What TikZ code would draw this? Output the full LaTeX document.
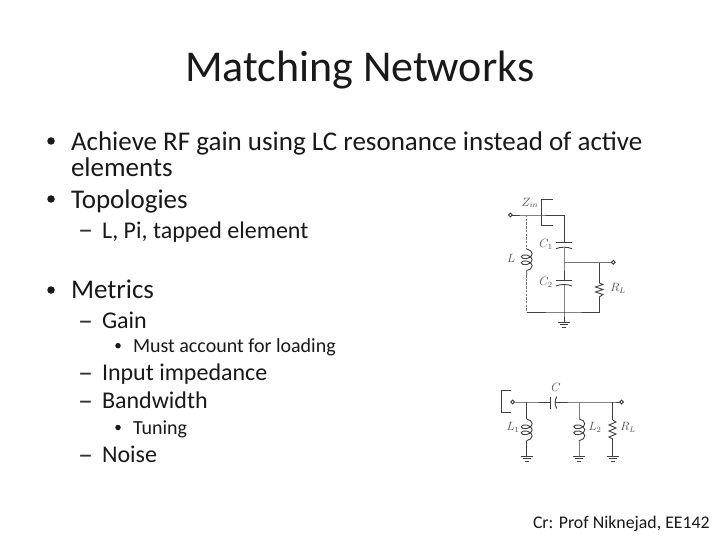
\documentclass[tikz,border=0pt]{standalone}
\usepackage{fontspec}
\setmainfont{Carlito}
\usetikzlibrary{decorations.pathmorphing}
\newcommand{\Gnd}[1]{%
  \draw[wire] (#1) ++(-6,0) -- ++(12,0);
  \draw[wire] (#1) ++(-4,2.5) -- ++(8,0);
  \draw[wire] (#1) ++(-2,5) -- ++(4,0);
}
\tikzset{
  x=1pt,y=-1pt,
  txt/.style={anchor=base west,inner sep=0pt,outer sep=0pt,text=black!90},
  l1/.style={txt,font=\fontsize{27}{30}\selectfont},
  l2/.style={txt,font=\fontsize{24}{28}\selectfont},
  l3/.style={txt,font=\fontsize{20}{24}\selectfont},
  bu1/.style={anchor=center,inner sep=0pt,outer sep=0pt,circle,fill=black!90,minimum size=7.5pt},
  bu2/.style={anchor=center,inner sep=0pt,outer sep=0pt,circle,fill=black!90,minimum size=5.5pt},
  dashmark/.style={txt,font=\fontsize{30}{30}\selectfont,text=black!80},
  wire/.style={draw=black!75,line width=0.9pt},
  dashwire/.style={draw=black!55,line width=0.9pt,dash pattern=on 2.5pt off 1.2pt},
  coilwire/.style={wire,decorate,decoration={coil,aspect=0.6,segment length=6pt,amplitude=5.5pt}},
  term/.style={circle,draw=black!80,fill=white,line width=0.9pt,minimum size=3.8pt,inner sep=0pt,outer sep=0pt},
  cl/.style={inner sep=0pt,outer sep=0pt,text=black!70,font=\fontfamily{lmr}\fontsize{11.5}{12}\selectfont},
}
\begin{document}
\begin{tikzpicture}
\useasboundingbox (0,0) rectangle (720,540);
\fill[white] (0,0) rectangle (720,540);
\node[txt,font=\fontsize{44}{48}\selectfont] (title) at (185,82) {Matching Networks};
\node[bu1] (b1) at (51,141) {};
\node[l1] (t1) at (71,150.7) {Achieve RF gain using LC resonance instead of active};
\node[l1] (t1b) at (71,176.7) {elements};
\node[bu1] (b2) at (51,199) {};
\node[l1] (t2) at (71,208.2) {Topologies};
\node[dashmark] (d1) at (78,240) {–};
\node[l2] (t3) at (102,238.5) {L, Pi, tapped element};
\node[bu1] (b3) at (51,290) {};
\node[l1] (t4) at (71,298) {Metrics};
\node[dashmark] (d2) at (78,330) {–};
\node[l2] (t5) at (102,328.5) {Gain};
\node[bu2] (b4) at (118,345.7) {};
\node[l3] (t6) at (133,352.3) {Must account for loading};
\node[dashmark] (d3) at (78,382) {–};
\node[l2] (t7) at (102,380.5) {Input impedance};
\node[dashmark] (d4) at (78,410) {–};
\node[l2] (t8) at (102,408.8) {Bandwidth};
\node[bu2] (b5) at (118,427.5) {};
\node[l3] (t9) at (133,434) {Tuning};
\node[dashmark] (d5) at (78,464) {–};
\node[l2] (t10) at (102,462.8) {Noise};
\node[txt,font=\fontsize{17.8}{22}\selectfont] (cr) at (533,528) {Cr: Prof Niknejad, EE142};

% upper circuit
\node[term] (A1) at (510.3,215) {};
\coordinate (A2) at (526.7,215);
\coordinate (A3) at (564,215);
\coordinate (C1a) at (564,242.7);
\coordinate (C1b) at (564,247.7);
\coordinate (A4) at (564,262.3);
\coordinate (C2a) at (564,280);
\coordinate (C2b) at (564,285);
\coordinate (A5) at (564,312);
\coordinate (A6) at (526.7,312);
\coordinate (A7) at (599.3,312);
\coordinate (A8) at (599.3,262.3);
\node[term] (A9) at (613.3,262.3) {};
\coordinate (AG) at (564,322);
\coordinate (L1a) at (526.7,249);
\coordinate (L1b) at (526.7,275);
\coordinate (R1a) at (599.3,283);
\coordinate (R1b) at (599.3,297);
\draw[wire] (A1) -- (A2) -- (A3) -- (C1a);
\draw[wire] (C1b) -- (A4) -- (C2a);
\draw[wire] (C2b) -- (A5) -- (AG);
\draw[wire] (A6) -- (A5) -- (A7) -- (R1b);
\draw[wire] (R1a) -- (A8);
\draw[wire,draw=black!55] (A4) -- (A8) -- (A9);
\draw[dashwire] (A2) -- (L1a);
\draw[dashwire] (L1b) -- (A6);
\draw[wire] (556,242.7) -- (572,242.7);
\draw[wire] (556,248.7) .. controls (560,246.7) and (568,246.7) .. (572,248.7);
\draw[wire] (556,280) -- (572,280);
\draw[wire] (556,286) .. controls (560,284) and (568,284) .. (572,286);
\draw[coilwire] (L1a) -- (L1b);
\draw[wire] (R1a) -- (603,284.5) -- (595.5,287) -- (603,289.5) -- (595.5,292) -- (603,294.5) -- (R1b);
\Gnd{AG}
\draw[wire,line width=0.7pt] (552.7,199.3) -- (541.7,199.3) -- (541.7,225) -- (552.7,225);
\node[cl] (zin) at (530,203) {$Z_{in}$};
\node[cl] (lbl) at (511,258) {$L$};
\node[cl] (c1l) at (546,244) {$C_1$};
\node[cl] (c2l) at (546,282) {$C_2$};
\node[cl] (rl) at (618,288) {$R_L$};

% lower circuit
\node[term] (B1) at (512.7,402) {};
\coordinate (B2) at (526.7,402);
\coordinate (Ca) at (550.7,402);
\coordinate (Cb) at (555,402);
\coordinate (B3) at (579.3,402);
\coordinate (B4) at (612.7,402);
\node[term] (B5) at (621.7,402) {};
\coordinate (P1) at (526.7,419);
\coordinate (P2) at (526.7,441);
\coordinate (G1) at (526.7,456);
\coordinate (Q1) at (579.3,419);
\coordinate (Q2) at (579.3,441);
\coordinate (G2) at (579.3,456);
\coordinate (S1) at (612.7,420);
\coordinate (S2) at (612.7,439);
\coordinate (G3) at (612.7,456);
\draw[wire] (B1) -- (B2) -- (Ca);
\draw[wire] (Cb) -- (B3) -- (B4) -- (B5);
\draw[wire] (550.7,396.5) -- (550.7,408.5);
\draw[wire] (556.8,396.5) .. controls (554.6,400) and (554.6,405) .. (556.8,408.5);
\draw[wire] (B2) -- (P1);
\draw[wire] (P2) -- (G1);
\draw[wire,draw=black!50] (B3) -- (Q1);
\draw[wire,draw=black!50] (Q2) -- (G2);
\draw[wire] (B4) -- (S1);
\draw[wire] (S2) -- (G3);
\draw[coilwire] (P1) -- (P2);
\draw[coilwire] (Q1) -- (Q2);
\draw[wire] (S1) -- (616,422) -- (609,425) -- (616,428) -- (609,431) -- (616,434) -- (609,437) -- (S2);
\Gnd{G1}
\Gnd{G2}
\Gnd{G3}
\draw[wire,line width=0.7pt] (510.7,390.7) -- (501.7,390.7) -- (501.7,412.7) -- (510.7,412.7);
\node[cl] (cl2) at (556,387) {$C$};
\node[cl] (l1l) at (513,427) {$L_1$};
\node[cl] (l2l) at (595,427) {$L_2$};
\node[cl] (rl2) at (628,427) {$R_L$};
\end{tikzpicture}
\end{document}
